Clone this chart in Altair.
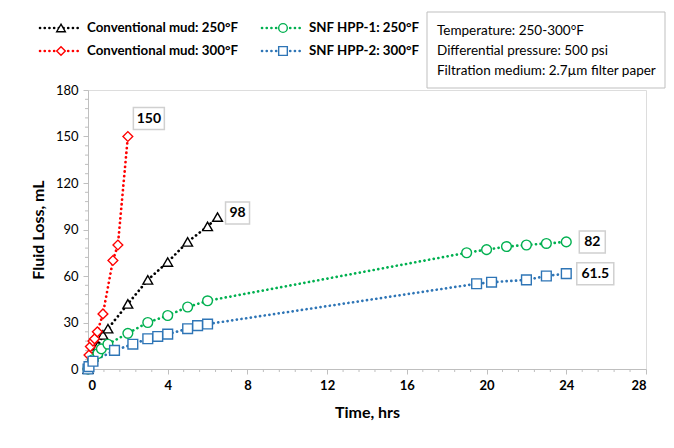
import altair as alt
import pandas as pd

# ---------------- data ----------------
series_names = ["Conventional mud: 250°F", "Conventional mud: 300°F",
                "SNF HPP-1: 250°F", "SNF HPP-2: 300°F"]
series_colors = ["#000000", "#FF0000", "#00B050", "#2E75B6"]
series_shapes = ["triangle-up", "diamond", "circle", "square"]

conv250_t = [0, 0.25, 0.5, 0.75, 1.0, 2.0, 3.0, 4.0, 5.0, 6.0, 6.5]
conv250_v = [0, 8, 15, 22, 26, 42, 57.5, 69, 82, 92, 98]

conv300_t = [0, 0.05, 0.12, 0.25, 0.33, 0.47, 0.75, 1.25, 1.5, 2.0]
conv300_v = [0, 9, 14.5, 18, 19.5, 24, 35.5, 70, 80, 150]

hpp1_t = [0, 0.25, 0.5, 0.67, 1.0, 2.0, 3.0, 4.0, 5.0, 6.0, 19, 20, 21, 22, 23, 24]
hpp1_v = [0, 6, 10, 13, 16, 23, 30, 34.5, 40, 44, 75, 77, 79, 80, 81, 82]

hpp2_t = [0, 0.05, 0.25, 1.33, 2.25, 3.0, 3.5, 4.0, 5.0, 5.5, 6.0, 19.5, 20.25, 22, 23, 24]
hpp2_v = [0, 1.5, 5, 12, 16, 19.5, 21, 22.5, 26, 28, 29, 55, 56, 57.5, 60, 61.5]

label_series = ["Conventional mud: 300°F", "Conventional mud: 250°F",
                "SNF HPP-1: 250°F", "SNF HPP-2: 300°F"]
label_text = ["150", "98", "82", "61.5"]
label_t = [2.0, 6.5, 24, 24]
label_v = [150, 98, 82, 61.5]

info_lines = ["Temperature: 250-300°F", "Differential pressure: 500 psi",
              "Filtration medium: 2.7µm filter paper"]

x_ticks = [0, 4, 8, 12, 16, 20, 24, 28]
y_ticks = [0, 30, 60, 90, 120, 150, 180]
x_minor = [round(i * 0.8, 2) for i in range(36) if i % 5 != 0]
y_minor = [i * 6 for i in range(31) if i % 5 != 0]

# ---------------- build tables ----------------
rows = []
for name, ts, vs in zip(series_names,
                        [conv250_t, conv300_t, hpp1_t, hpp2_t],
                        [conv250_v, conv300_v, hpp1_v, hpp2_v]):
    for i, (t, v) in enumerate(zip(ts, vs)):
        rows.append({"series": name, "t": t, "v": v, "order": i})
df = pd.DataFrame(rows)

FONT = "Lato"
W, H = 558, 279
AXC = "#BFBFBF"

xscale = alt.Scale(domain=[0, 28], nice=False, zero=True)
yscale = alt.Scale(domain=[0, 180], nice=False, zero=True)
color_scale = alt.Scale(domain=series_names, range=series_colors)
shape_scale = alt.Scale(domain=series_names, range=series_shapes)

x_axis = alt.Axis(values=x_ticks, title="Time, hrs", grid=False, labelFontWeight="bold",
                  labelFontSize=13, labelFont=FONT, titleFont=FONT, titleFontSize=16,
                  titleFontWeight="bold", titlePadding=12, tickSize=5, labelPadding=5,
                  domainColor=AXC, tickColor=AXC, labelColor="#000000",
                  titleColor="#000000", orient="bottom")
y_axis = alt.Axis(values=y_ticks, title="Fluid Loss, mL", grid=False, labelFontSize=13,
                  labelFont=FONT, titleFont=FONT, titleFontSize=16, titleFontWeight="bold",
                  titlePadding=9, tickSize=5, labelPadding=5, domainColor=AXC,
                  tickColor=AXC, labelColor="#000000", titleColor="#000000",
                  orient="left")

X = alt.X("t:Q", scale=xscale, axis=x_axis)
Y = alt.Y("v:Q", scale=yscale, axis=y_axis)

base = alt.Chart(df)

lines = base.mark_line(strokeDash=[0.1, 4.6], strokeCap="round", strokeWidth=2.7).encode(
    x=X, y=Y,
    color=alt.Color("series:N", scale=color_scale, legend=None),
    order="order:Q",
)

points = base.mark_point(fill="white", fillOpacity=1, strokeWidth=1.4, opacity=1, size=95).encode(
    x=X, y=Y,
    stroke=alt.Stroke("series:N", scale=color_scale, legend=None),
    shape=alt.Shape("series:N", scale=shape_scale, legend=None),
)

# minor ticks
minor_xt = alt.Chart(pd.DataFrame({"t": x_minor})).mark_rule(color=AXC, strokeWidth=1).encode(
    x=X, y=alt.value(H), y2=alt.value(H + 3))
minor_yt = alt.Chart(pd.DataFrame({"v": y_minor})).mark_rule(color=AXC, strokeWidth=1).encode(
    y=Y, x=alt.value(0), x2=alt.value(-3))

# value labels with boxes
lab_df = pd.DataFrame({"series": label_series, "txt": label_text, "t": label_t, "v": label_v})
lab_offsets = [(21, -18), (20, -4), (26, 0), (29, 0)]
lab_widths = [31, 24, 26, 37]
label_layers = []
for i in range(len(label_text)):
    d = lab_df.iloc[[i]]
    dx, dy = lab_offsets[i]
    c = alt.Chart(d)
    label_layers.append(c.mark_rect(width=lab_widths[i], height=22, xOffset=dx, yOffset=dy,
                                    fill="white", stroke="#D0D0D0", strokeWidth=1.5).encode(
        x=X, y=Y))
    label_layers.append(c.mark_text(dx=dx, dy=dy, font=FONT, fontSize=14, fontWeight="bold",
                                    color="#000000", align="center", baseline="middle").encode(
        x=X, y=Y, text="txt:N"))

# custom legend (pixel placement relative to plot origin)
one = alt.Chart(pd.DataFrame({"k": [0]}))
leg_layers = []
leg_pos = [(-48, -62), (-48, -39), (174, -62), (174, -39)]
for name, col, shp, (lx, ly) in zip(series_names, series_colors, series_shapes, leg_pos):
    leg_layers.append(one.mark_rule(strokeDash=[0.1, 4.6], strokeCap="round", strokeWidth=2.6,
                                    color=col).encode(
        x=alt.value(lx), x2=alt.value(lx + 42), y=alt.value(ly)))
    leg_layers.append(one.mark_point(shape=shp, fill="white", fillOpacity=1, stroke=col,
                                     strokeWidth=1.4, opacity=1, size=75).encode(
        x=alt.value(lx + 21), y=alt.value(ly)))
    leg_layers.append(one.mark_text(text=name, font=FONT, fontSize=13.3, fontWeight="bold",
                                    color="#000000", align="left", baseline="middle").encode(
        x=alt.value(lx + 47), y=alt.value(ly)))

# info box
info_layers = [one.mark_rect(fill="white", stroke=AXC, strokeWidth=1).encode(
    x=alt.value(339), x2=alt.value(577), y=alt.value(-78), y2=alt.value(-2))]
for i, line in enumerate(info_lines):
    info_layers.append(one.mark_text(text=line, font=FONT, fontSize=13.5, color="#000000",
                                     align="left", baseline="middle").encode(
        x=alt.value(349), y=alt.value(-59 + 20 * i)))

chart = alt.layer(minor_xt, minor_yt, lines, points, *label_layers, *leg_layers,
                  *info_layers).properties(
    width=W, height=H, autosize="none",
    padding={"left": 80, "top": 82, "right": 20, "bottom": 71},
).configure_view(stroke=None).configure(background="white")

chart.save("out.html", embed_options={"renderer": "svg", "actions": False})
